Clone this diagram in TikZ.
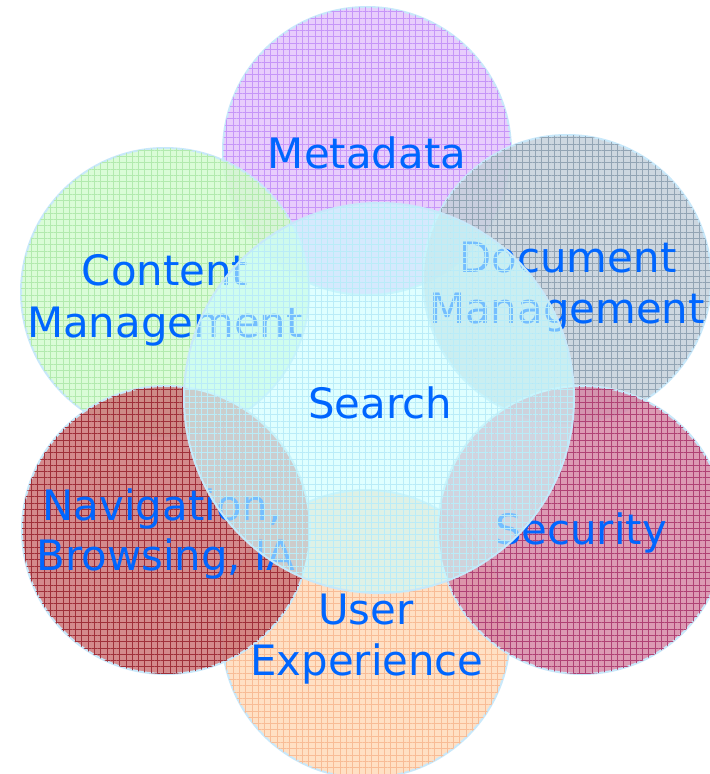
\documentclass[tikz,border=0pt]{standalone}
\usepackage{fontspec}
\setmainfont{DejaVu Sans}
\usetikzlibrary{patterns.meta}
\definecolor{txtblue}{RGB}{0,102,255}
\definecolor{rimblue}{RGB}{200,232,250}
\definecolor{metafill}{RGB}{228,196,252}
\definecolor{metaline}{RGB}{198,150,248}
\definecolor{contfill}{RGB}{212,252,208}
\definecolor{contline}{RGB}{178,234,174}
\definecolor{docfill}{RGB}{196,208,218}
\definecolor{docline}{RGB}{146,164,180}
\definecolor{navfill}{RGB}{204,118,120}
\definecolor{navline}{RGB}{160,48,58}
\definecolor{secfill}{RGB}{214,136,166}
\definecolor{secline}{RGB}{176,66,116}
\definecolor{uefill}{RGB}{255,218,186}
\definecolor{ueline}{RGB}{248,188,150}
\definecolor{searchfill}{RGB}{200,255,255}
\definecolor{searchline}{RGB}{186,236,248}
\tikzset{
  bubble/.style={circle, draw=rimblue, line width=2bp, minimum size=288bp, inner sep=0pt,
    fill opacity=0.85},
  texture/.style={postaction={pattern={Hatch[angle=0,distance=6.3bp,line width=0.9bp]},
    pattern color=#1, fill opacity=0.8}},
  lbl/.style={anchor=base, inner sep=0pt, text=txtblue, font=\fontsize{42}{51}\selectfont},
}
\begin{document}
\begin{tikzpicture}[x=1bp,y=-1bp]
\useasboundingbox (0,0) rectangle (710,774);
\node[bubble, fill=metafill, texture=metaline] (meta) at (367,151) {};
\node[lbl] (metaT) at (367,168) {Metadata};
\node[bubble, fill=contfill, texture=contline] (cont) at (165,292) {};
\node[lbl] (contT1) at (165,285) {Content};
\node[lbl] (contT2) at (165,337) {Management};
\node[bubble, fill=docfill, texture=docline] (doc) at (567,279) {};
\node[lbl] (docT1) at (568,272) {Document};
\node[lbl] (docT2) at (567,323) {Management};
\node[bubble, fill=uefill, texture=ueline] (ue) at (366,634) {};
\node[bubble, fill=navfill, texture=navline] (nav) at (166,530) {};
\node[lbl] (navT1) at (162,520) {Navigation,};
\node[lbl] (navT2) at (166,570) {Browsing, IA};
\node[bubble, fill=secfill, texture=secline] (sec) at (582,530) {};
\node[lbl] (secT) at (581,544) {Security};
\node[lbl] (ueT1) at (366,624) {User};
\node[lbl] (ueT2) at (367,675) {Experience};
\node[bubble, fill=searchfill, minimum size=390bp, fill opacity=0.58, texture=searchline] (search) at (379,398) {};
\node[lbl] (searchT) at (380,418) {Search};
\end{tikzpicture}
\end{document}
